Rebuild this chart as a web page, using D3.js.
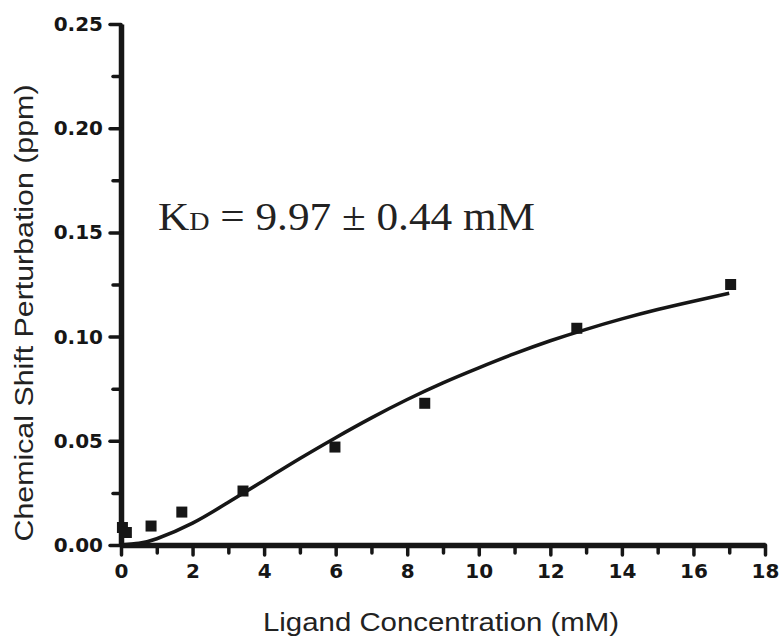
<!DOCTYPE html>
<html>
<head>
<meta charset="utf-8">
<script src="https://cdn.jsdelivr.net/npm/d3@7"></script>
<style>
  body { margin: 0; background: #fff; }
  svg { display: block; }
</style>
</head>
<body>
<div id="chart"></div>
<script>
// measured points (ligand conc. in mM, CSP in ppm)
const concentration = [0.04, 0.15, 0.84, 1.70, 3.41, 5.98, 8.49, 12.74, 17.04];
const shift = [0.0084, 0.0060, 0.0091, 0.0158, 0.0259, 0.047, 0.068, 0.104, 0.125];

// fitted curve
const fitX = [0, 0.5, 1, 2, 3, 4, 5, 6, 7, 8, 9, 10, 11, 12, 13, 14, 15, 16, 17];
const fitY = [0, 0.0008, 0.003, 0.0105, 0.0205, 0.031, 0.0415, 0.0515, 0.061, 0.0698,
              0.0778, 0.085, 0.0918, 0.098, 0.1035, 0.1085, 0.113, 0.117, 0.1208];

const xMajor = [0, 2, 4, 6, 8, 10, 12, 14, 16, 18];
const xMinor = [1, 3, 5, 7, 9, 11, 13, 15, 17];
const yMajor = [0, 0.05, 0.10, 0.15, 0.20, 0.25];
const yMinor = [0.025, 0.075, 0.125, 0.175, 0.225];

const xTitle = "Ligand Concentration (mM)";
const yTitle = "Chemical Shift Perturbation (ppm)";

const width = 783, height = 637;
const ink = "#161616";

const svg = d3.select("#chart").append("svg")
    .attr("width", width)
    .attr("height", height);

svg.append("rect").attr("width", width).attr("height", height).attr("fill", "#fff");

const x = d3.scaleLinear().domain([0, 18]).range([121, 765]);
const y = d3.scaleLinear().domain([0, 0.25]).range([545, 24]);

// minor ticks first so the axis line sits on top
svg.append("g")
    .attr("transform", `translate(0,${y(0)})`)
    .call(d3.axisBottom(x).tickValues(xMinor).tickSize(8).tickFormat(""))
    .call(g => g.select(".domain").remove());

svg.append("g")
    .attr("transform", `translate(${x(0)},0)`)
    .call(d3.axisLeft(y).tickValues(yMinor).tickSize(8).tickFormat(""))
    .call(g => g.select(".domain").remove());

const xAxis = svg.append("g")
    .attr("transform", `translate(0,${y(0)})`)
    .call(d3.axisBottom(x).tickValues(xMajor).tickSize(10).tickSizeOuter(0).tickPadding(9));

const yAxis = svg.append("g")
    .attr("transform", `translate(${x(0)},0)`)
    .call(d3.axisLeft(y).tickValues(yMajor).tickSize(11).tickSizeOuter(0)
        .tickFormat(d3.format(".2f")).tickPadding(7));

svg.selectAll(".tick line")
    .attr("stroke", ink)
    .attr("stroke-width", 3.5)
    .attr("stroke-linecap", "round");

svg.selectAll(".domain")
    .attr("stroke", ink)
    .attr("stroke-width", 5.5);

svg.selectAll(".tick text")
    .attr("fill", ink)
    .style("font-family", "'DejaVu Sans', sans-serif")
    .style("font-weight", "bold")
    .style("font-size", "20px");

// fitted curve
const line = d3.line()
    .x(d => x(d[0]))
    .y(d => y(d[1]))
    .curve(d3.curveNatural);

svg.append("path")
    .datum(fitX.map((v, i) => [v, fitY[i]]))
    .attr("d", line)
    .attr("fill", "none")
    .attr("stroke", ink)
    .attr("stroke-width", 3.5);

// data squares
const s = 11;
svg.append("g").selectAll("rect")
    .data(concentration.map((v, i) => [v, shift[i]]))
    .enter().append("rect")
    .attr("x", d => x(d[0]) - s / 2)
    .attr("y", d => y(d[1]) - s / 2)
    .attr("width", s)
    .attr("height", s)
    .attr("fill", ink);

// axis titles
svg.append("text")
    .attr("x", 441)
    .attr("y", 631)
    .attr("text-anchor", "middle")
    .attr("textLength", 356)
    .attr("lengthAdjust", "spacingAndGlyphs")
    .style("font-family", "'Liberation Sans', Arial, sans-serif")
    .style("font-size", "26px")
    .attr("fill", "#222")
    .text(xTitle);

svg.append("text")
    .attr("transform", "translate(33,313) rotate(-90)")
    .attr("text-anchor", "middle")
    .attr("textLength", 457)
    .attr("lengthAdjust", "spacingAndGlyphs")
    .style("font-family", "'Liberation Sans', Arial, sans-serif")
    .style("font-size", "26px")
    .attr("fill", "#222")
    .text(yTitle);

// KD annotation
const kd = svg.append("text")
    .attr("x", 158)
    .attr("y", 230)
    .attr("textLength", 377)
    .attr("lengthAdjust", "spacingAndGlyphs")
    .style("font-family", "'Liberation Serif', 'Times New Roman', serif")
    .style("font-size", "40px")
    .attr("fill", "#222");
kd.append("tspan").text("K");
kd.append("tspan").style("font-size", "26px").text("D");
kd.append("tspan").text(" = 9.97 \u00b1 0.44 mM");
</script>
</body>
</html>
